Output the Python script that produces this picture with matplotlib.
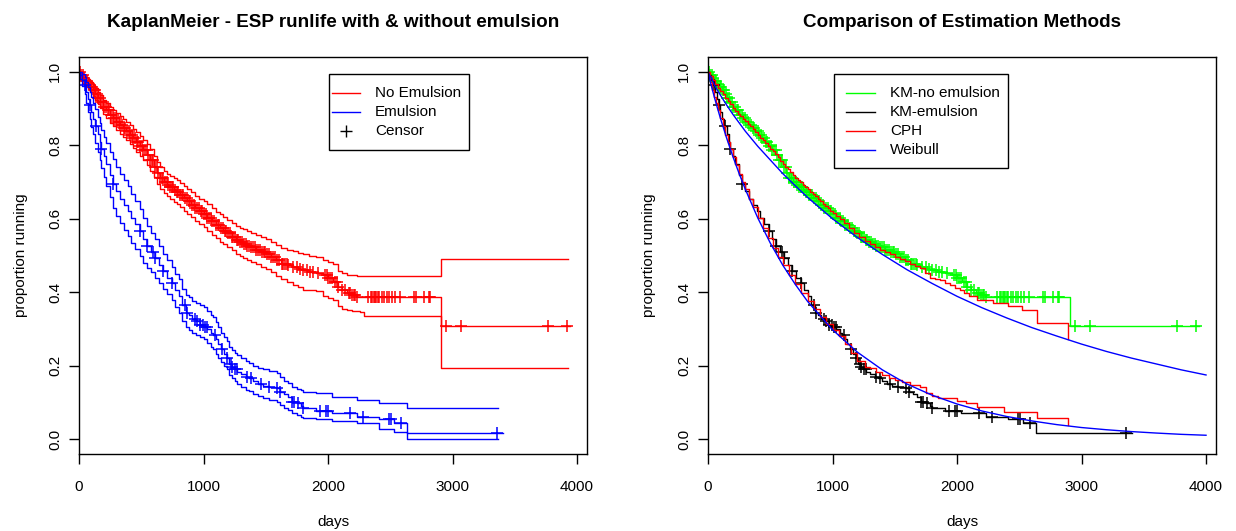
import numpy as np
import matplotlib
matplotlib.use("Agg")
import matplotlib.pyplot as plt
from matplotlib.lines import Line2D
from matplotlib.patches import Rectangle

plt.rcParams['font.family'] = ['Liberation Sans', 'DejaVu Sans']

# ---- KM, no emulsion: step times, survival and 95% band ----
ne_t = [0, 15, 35, 50, 70, 90, 110, 130, 150, 170,
        195, 220, 250, 275, 300, 330, 355, 380, 410, 435,
        460, 490, 515, 545, 570, 600, 625, 650, 680, 705,
        730, 760, 785, 810, 840, 870, 900, 935, 965, 1000,
        1030, 1065, 1100, 1130, 1160, 1190, 1225, 1260, 1290, 1320,
        1350, 1380, 1420, 1460, 1500, 1540, 1580, 1620, 1670, 1720,
        1760, 1800, 1850, 1900, 1960, 2000, 2040, 2080, 2110, 2150,
        2190, 2230, 2260, 2290, 2905]
ne_s = [1.0, .992, .982, .975, .967, .958, .95, .94, .929, .918,
        .905, .895, .882, .873, .864, .855, .847, .838, .828, .819,
        .809, .798, .787, .774, .76, .742, .725, .712, .70, .692,
        .685, .678, .672, .665, .656, .647, .638, .628, .62, .612,
        .603, .593, .583, .575, .567, .56, .551, .543, .537, .532,
        .527, .522, .516, .51, .503, .496, .487, .478, .473, .468,
        .464, .46, .456, .452, .446, .44, .428, .415, .407, .398,
        .392, .388, .386, .386, .309]
ne_hi = [1.0, .997, .99, .985, .979, .972, .965, .956, .946, .936,
         .924, .915, .903, .895, .887, .879, .872, .863, .854, .845,
         .836, .825, .815, .802, .789, .771, .755, .742, .731, .723,
         .717, .71, .705, .698, .69, .681, .672, .663, .655, .647,
         .639, .629, .619, .612, .604, .597, .588, .581, .575, .571,
         .566, .562, .556, .55, .544, .537, .529, .521, .516, .511,
         .506, .503, .50, .495, .489, .482, .476, .457, .453, .448,
         .446, .445, .444, .444, .491]
ne_lo = [1.0, .987, .974, .965, .955, .944, .935, .924, .912, .90,
         .886, .875, .861, .851, .841, .831, .822, .813, .802, .793,
         .782, .771, .759, .746, .731, .713, .695, .682, .669, .661,
         .653, .646, .639, .632, .622, .613, .604, .593, .585, .577,
         .567, .557, .547, .538, .53, .523, .514, .505, .499, .493,
         .488, .482, .476, .47, .462, .455, .445, .435, .428, .421,
         .415, .407, .405, .404, .39, .385, .38, .362, .355, .352,
         .35, .348, .346, .336, .193]
ne_end = 3945
ne_ci_end = 3930
ne_cens = [8, 20, 31, 44, 57, 66, 79, 93, 104, 117, 128, 141, 155, 166, 179, 193, 204, 217, 231, 243,
           256, 270, 281, 294, 308, 320, 333, 347, 359, 372, 386, 398, 411, 425, 437, 450, 464, 477,
           490, 503, 517, 530, 543, 557, 570, 583, 597, 610, 623, 637, 650, 663, 677, 690, 704, 717,
           731, 744, 758, 771, 785, 798, 812, 826, 839, 853, 866, 880, 894, 907, 921, 935, 948, 962,
           976, 989, 1003, 1017, 1031, 1044, 1058, 1072, 1086, 1100, 1114, 1127, 1141, 1155, 1169,
           1183, 1197, 1211, 1225, 1239, 1253, 1267, 1281, 1296, 1310, 1324, 1338, 1352, 1367, 1381,
           1395, 1410, 1424, 1438, 1453, 1467, 1482, 1497, 1512, 1527, 1542, 1557, 1572, 1588, 1603,
           1628, 1640, 1655, 1668, 1680, 1722, 1748, 1775, 1802, 1830, 1856, 1883, 1923, 1977, 1990,
           2003, 2016, 2030, 2057, 2071, 2084, 2111, 2138, 2165, 2178, 2192, 2205, 2219, 2232, 2318,
           2345, 2356, 2367, 2378, 2389, 2400, 2411, 2434, 2453, 2474, 2493, 2515, 2541, 2576, 2688,
           2710, 2769, 2809, 2822, 2945, 3069, 3767, 3920]

# ---- KM, emulsion ----
em_t = [0, 10, 25, 46, 60, 75, 86, 100, 115, 130,
        150, 165, 180, 200, 220, 245, 270, 300, 330, 360,
        390, 420, 450, 489, 515, 543, 575, 609, 640, 676,
        710, 744, 775, 800, 830, 857, 880, 910, 937, 970,
        1000, 1030, 1060, 1080, 1100, 1120, 1143, 1165, 1190, 1207,
        1226, 1250, 1271, 1300, 1340, 1366, 1400, 1440, 1480, 1529,
        1589, 1615, 1650, 1682, 1709, 1750, 1780, 1803, 1900, 2031,
        2233, 2407, 2527, 2635]
em_s = [1.0, .99, .978, .963, .945, .925, .909, .89, .872, .853,
        .83, .81, .79, .77, .748, .72, .695, .675, .655, .638,
        .622, .602, .585, .567, .545, .525, .51, .494, .475, .457,
        .44, .426, .405, .39, .365, .344, .338, .328, .321, .312,
        .306, .30, .29, .283, .272, .26, .245, .232, .222, .205,
        .197, .19, .184, .178, .17, .166, .158, .151, .146, .143,
        .139, .129, .122, .116, .102, .098, .09, .084, .078, .072,
        .061, .054, .045, .016]
em_hi = [1.0, .998, .993, .985, .972, .958, .946, .93, .915, .898,
         .877, .86, .842, .823, .805, .782, .762, .742, .722, .705,
         .688, .668, .648, .627, .603, .581, .562, .546, .527, .505,
         .487, .47, .45, .435, .41, .392, .386, .376, .37, .366,
         .36, .348, .337, .332, .32, .305, .29, .278, .268, .252,
         .243, .236, .23, .222, .212, .207, .20, .193, .19, .185,
         .18, .17, .158, .152, .143, .138, .133, .129, .125, .116,
         .107, .099, .099, .086]
em_lo = [1.0, .98, .962, .938, .915, .89, .872, .85, .83, .807,
         .782, .76, .737, .714, .69, .66, .63, .608, .588, .57,
         .552, .533, .517, .50, .48, .465, .455, .44, .425, .41,
         .395, .38, .36, .344, .322, .305, .298, .29, .284, .277,
         .272, .262, .25, .245, .232, .222, .21, .20, .19, .176,
         .166, .158, .151, .143, .135, .131, .123, .117, .113, .108,
         .101, .093, .085, .079, .072, .066, .06, .057, .054, .049,
         .043, .029, .02, .0]
em_end = 3408
em_ci_end = 3364
em_cens = [46, 86, 140, 180, 274, 489, 543, 598, 609, 678, 745, 855, 866, 932, 950, 972, 997, 1013,
           1026, 1093, 1146, 1191, 1220, 1226, 1252, 1267, 1347, 1379, 1458, 1529, 1589, 1617, 1709,
           1728, 1760, 1803, 1935, 1982, 1998, 2173, 2284, 2491, 2506, 2586, 3358]

# ---- Cox PH estimates ----
cph_ne_t = [0, 20, 40, 60, 80, 100, 120, 140, 160, 180, 200, 220, 240, 260, 280, 300, 320, 340, 360,
            380, 400, 420, 440, 460, 480, 500, 520, 540, 560, 580, 600, 620, 640, 660, 680, 700, 720,
            740, 760, 780, 800, 820, 840, 860, 880, 900, 920, 940, 960, 980, 1000, 1030, 1060, 1090,
            1135, 1175, 1215, 1260, 1300, 1340, 1380, 1420, 1460, 1500, 1540, 1580, 1620, 1660, 1700,
            1740, 1780, 1820, 1860, 1900, 1940, 1980, 2020, 2060, 2100, 2160, 2290, 2412, 2521, 2639,
            2888]
cph_ne_s = [1.0, .988, .978, .966, .957, .948, .938, .928, .919, .911, .902, .894, .886, .879, .872,
            .865, .858, .851, .844, .836, .829, .821, .814, .806, .799, .791, .783, .775, .767, .758,
            .75, .742, .734, .726, .719, .712, .706, .699, .693, .687, .68, .674, .667, .661, .654,
            .648, .641, .635, .628, .622, .616, .607, .598, .588, .575, .562, .55, .54, .53, .522,
            .515, .509, .503, .497, .49, .484, .478, .471, .465, .452, .44, .436, .432, .426, .42,
            .412, .405, .397, .389, .38, .371, .362, .351, .316, .272]
cph_em_t = [0, 10, 20, 35, 50, 65, 80, 100, 120, 140, 160, 180, 200, 225, 250, 275, 300, 330, 360,
            400, 440, 480, 520, 560, 600, 650, 700, 750, 800, 850, 900, 950, 1000, 1050, 1100, 1150,
            1200, 1260, 1300, 1350, 1400, 1450, 1500, 1560, 1620, 1700, 1750, 1800, 1850, 2000, 2070,
            2160, 2380, 2639, 2888]
cph_em_s = [1.0, .985, .971, .951, .932, .914, .896, .873, .851, .829, .809, .789, .769, .746, .723,
            .701, .68, .655, .632, .602, .574, .547, .521, .497, .474, .447, .422, .398, .375, .354,
            .334, .315, .298, .282, .258, .235, .213, .198, .193, .183, .175, .168, .161, .155, .147,
            .143, .125, .118, .111, .105, .098, .088, .073, .057, .038]

# ---- Weibull fits ----
wb_t = [0, 10, 25, 50, 75, 100, 150, 200, 250, 300, 400, 500, 600, 700, 800, 1000, 1200, 1400, 1600,
        1800, 2000, 2200, 2400, 2600, 2800, 3000, 3200, 3400, 3600, 3800, 4000]
wb_ne = [1.0, .991, .985, .965, .950, .936, .909, .884, .861, .838, .797, .760, .723, .690, .658, .600,
         .549, .503, .461, .424, .389, .358, .330, .304, .281, .259, .239, .221, .205, .189, .175]
wb_em = [1.0, .985, .964, .932, .902, .873, .819, .769, .723, .680, .602, .534, .474, .422, .375, .298,
         .237, .189, .150, .120, .096, .077, .062, .050, .040, .032, .026, .021, .017, .0135, .011]

RED, BLUE, LIME = '#FF0000', '#0000FF', '#00FF00'
W, H = 1236, 531
FS = 11


def step_line(ax, t, s, end, color):
    x = list(t) + [end]
    y = list(s) + [s[-1]]
    ax.step(x, y, where='post', color=color, lw=1.0)


def censor_marks(ax, t, s, cens, color):
    idx = np.searchsorted(t, cens, side='right') - 1
    ys = np.asarray(s)[idx]
    ax.plot(cens, ys, linestyle='none', marker='+', ms=9, mew=1.1, color=color)


def style_axes(ax, title):
    ax.set_xlim(0, 4080)
    ax.set_ylim(-0.04, 1.04)
    ax.set_xticks([0, 1000, 2000, 3000, 4000])
    ax.set_yticks([0, 0.2, 0.4, 0.6, 0.8, 1.0])
    ax.set_yticklabels(['0.0', '0.2', '0.4', '0.6', '0.8', '1.0'])
    ax.tick_params(direction='out', length=7, width=1, labelsize=FS, pad=12)
    ax.tick_params(axis='y', labelrotation=90, pad=5)
    for lab in ax.get_yticklabels():
        lab.set_va('center')
    for sp in ax.spines.values():
        sp.set_linewidth(1)
    ax.set_xlabel('days', fontsize=FS, labelpad=15)
    ax.set_ylabel('proportion running', fontsize=FS, labelpad=15)
    ax.set_title(title, fontsize=13.6, fontweight='bold', pad=21.5)


def r_legend(fig, box, rows, hx, tx, labels, styles):
    # R-style legend box drawn in figure pixels (y from top)
    x0, y0, x1, y1 = box
    fig.add_artist(Rectangle((x0 / W, 1 - y1 / H), (x1 - x0) / W, (y1 - y0) / H,
                             transform=fig.transFigure, facecolor='white',
                             edgecolor='black', lw=1, zorder=5))
    for y, lab, st in zip(rows, labels, styles):
        yf = 1 - y / H
        if st.get('marker'):
            fig.add_artist(Line2D([(hx[0] + hx[1]) / 2 / W], [yf], transform=fig.transFigure,
                                  ls='none', zorder=6, **st))
        else:
            fig.add_artist(Line2D([hx[0] / W, hx[1] / W], [yf, yf], transform=fig.transFigure,
                                  lw=1, zorder=6, **st))
        fig.text(tx / W, yf, lab, fontsize=FS, va='center', ha='left', zorder=7)


fig = plt.figure(figsize=(W / 100, H / 100), dpi=100)
ax1 = fig.add_axes([79 / W, 77 / H, 508 / W, 397 / H])
ax2 = fig.add_axes([708 / W, 77 / H, 508 / W, 397 / H])

# left panel: KM with confidence bands
step_line(ax1, ne_t, ne_s, ne_end, RED)
step_line(ax1, ne_t, ne_hi, ne_ci_end, RED)
step_line(ax1, ne_t, ne_lo, ne_ci_end, RED)
censor_marks(ax1, ne_t, ne_s, ne_cens, RED)
step_line(ax1, em_t, em_s, em_end, BLUE)
step_line(ax1, em_t, em_hi, em_ci_end, BLUE)
step_line(ax1, em_t, em_lo, em_ci_end, BLUE)
censor_marks(ax1, em_t, em_s, em_cens, BLUE)
style_axes(ax1, 'KaplanMeier - ESP runlife with & without emulsion')

r_legend(fig, (329, 74, 469, 150), [93, 112, 131], (332, 360), 375,
         ['No Emulsion', 'Emulsion', 'Censor'],
         [dict(color=RED), dict(color=BLUE),
          dict(color='black', marker='+', ms=9, mew=1)])

# right panel: comparison of estimation methods
step_line(ax2, ne_t, ne_s, ne_end, LIME)
censor_marks(ax2, ne_t, ne_s, ne_cens, LIME)
step_line(ax2, em_t, em_s, em_end, 'black')
censor_marks(ax2, em_t, em_s, em_cens, 'black')
ax2.step(cph_ne_t, cph_ne_s, where='post', color=RED, lw=1.0)
ax2.step(cph_em_t, cph_em_s, where='post', color=RED, lw=1.0)
ax2.plot(wb_t, wb_ne, color=BLUE, lw=1.0)
ax2.plot(wb_t, wb_em, color=BLUE, lw=1.0)
style_axes(ax2, 'Comparison of Estimation Methods')

r_legend(fig, (834, 74, 1008, 168), [93, 112, 131, 150], (846, 875), 890,
         ['KM-no emulsion', 'KM-emulsion', 'CPH', 'Weibull'],
         [dict(color=LIME), dict(color='black'), dict(color=RED), dict(color=BLUE)])

fig.savefig('out.png', dpi=100)
